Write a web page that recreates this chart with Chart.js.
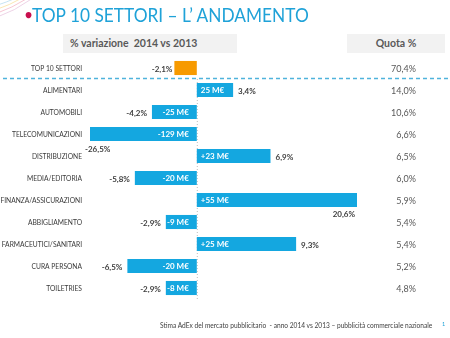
<!DOCTYPE html>
<html>
<head>
<meta charset="utf-8">
<script src="https://cdn.jsdelivr.net/npm/chart.js@4.4.1/dist/chart.umd.min.js"></script>
<style>
  body { margin: 0; background: #fff; font-family: Lato, "Open Sans", sans-serif; }
  #page { position: relative; width: 450px; height: 338px; overflow: hidden; }
  #wrap { position: absolute; left: 0; top: 0; width: 450px; height: 338px; }
  .title { position: absolute; left: 25px; top: 3px; font-size: 19px; color: #1fa2d8; white-space: nowrap;
           transform: scaleX(0.91); transform-origin: left top; }
  .title .dot { color: #c8104e; font-size: 13px; vertical-align: 3px; }
  .hbox { position: absolute; top: 34px; height: 19px; background: #f2f2f2; color: #595959;
          font-weight: bold; font-size: 10.5px; line-height: 19px; white-space: nowrap; }
  .foot { position: absolute; left: 160px; top: 321px; font-size: 6.6px; color: #404040; white-space: nowrap; }
  .pnum { position: absolute; left: 442px; top: 321px; font-size: 5.5px; color: #1fa2d8; }
  svg { position: absolute; left: 0; top: 0; }
</style>
</head>
<body>
<div id="page">
  <svg width="60" height="30">
    <path d="M-5 14 Q12 8 28 -2" stroke="#f4b8c8" fill="none" stroke-width="0.8"/>
    <path d="M-5 10 Q10 5 22 -2" stroke="#f7e0a0" fill="none" stroke-width="0.8"/>
    <path d="M-5 6 Q7 2 16 -2" stroke="#b8dcef" fill="none" stroke-width="0.8"/>
    <path d="M-5 18 Q15 11 33 -2" stroke="#e8c8e0" fill="none" stroke-width="0.8"/>
  </svg>
  <div id="wrap"><canvas id="myChart"></canvas></div>
  <div class="title"><span class="dot">&#9679;</span>TOP 10 SETTORI – L’ ANDAMENTO</div>
  <div class="hbox" style="left:63px;width:167px;padding-left:7px;">% variazione&nbsp; 2014 vs 2013</div>
  <div class="hbox" style="left:347px;width:98px;text-align:center;">Quota %</div>
  <div class="foot">Stima AdEx del mercato pubblicitario&nbsp; - anno 2014 vs 2013 – pubblicità commerciale nazionale</div>
  <div class="pnum">1</div>
</div>

<script>
// categories and values
var categories = ['TOP 10 SETTORI', 'ALIMENTARI', 'AUTOMOBILI', 'TELECOMUNICAZIONI', 'DISTRIBUZIONE',
  'MEDIA/EDITORIA', 'FINANZA/ASSICURAZIONI', 'ABBIGLIAMENTO', 'FARMACEUTICI/SANITARI', 'CURA PERSONA', 'TOILETRIES'];
var variazione = [-2.1, 3.4, -4.2, -26.5, 6.9, -5.8, 20.6, -2.9, 9.3, -6.5, -2.9];
var milioni = ['', '25 M€', '-25 M€', '-129 M€', '+23 M€', '-20 M€', '+55 M€', '-9 M€', '+25 M€', '-20 M€', '-8 M€'];
var quota = [70.4, 14.0, 10.6, 6.6, 6.5, 6.0, 5.9, 5.4, 5.4, 5.2, 4.8];

var BLUE = '#14a7e0';
var ORANGE = '#f79a00';

function fmt(v) {
  return v.toFixed(1).replace('.', ',') + '%';
}

// labels, dashed separator and zero line
var labelPlugin = {
  id: 'labelPlugin',
  beforeDatasetsDraw: function (chart) {
    var ctx = chart.ctx;
    var x = chart.scales.x, y = chart.scales.y;
    var x0 = x.getPixelForValue(0);
    var sep = (y.getPixelForValue(0) + y.getPixelForValue(1)) / 2;
    ctx.save();
    ctx.strokeStyle = '#bdbdbd';
    ctx.lineWidth = 1;
    ctx.setLineDash([1, 2]);
    ctx.beginPath();
    ctx.moveTo(x0 + 0.5, sep);
    ctx.lineTo(x0 + 0.5, chart.chartArea.bottom + 1);
    ctx.stroke();
    ctx.restore();
  },
  afterDatasetsDraw: function (chart) {
    var ctx = chart.ctx;
    var x = chart.scales.x, y = chart.scales.y;
    var x0 = x.getPixelForValue(0);
    var meta = chart.getDatasetMeta(0);
    ctx.save();

    // dashed line under the total row
    var sep = (y.getPixelForValue(0) + y.getPixelForValue(1)) / 2 - 0.5;
    ctx.strokeStyle = '#4fb3dc';
    ctx.lineWidth = 1.5;
    ctx.setLineDash([4, 3]);
    ctx.beginPath();
    ctx.moveTo(3, sep);
    ctx.lineTo(450, sep);
    ctx.stroke();
    ctx.setLineDash([]);

    ctx.textBaseline = 'middle';
    for (var i = 0; i < categories.length; i++) {
      var cy = y.getPixelForValue(i);
      var bar = meta.data[i];
      var v = variazione[i];

      // category name
      ctx.font = '6.7px Lato, sans-serif';
      ctx.fillStyle = '#3a3a3a';
      ctx.textAlign = 'right';
      ctx.fillText(categories[i], 82, cy + 0.5);

      // quota %
      ctx.font = '9px Lato, sans-serif';
      ctx.fillStyle = '#595959';
      ctx.textAlign = 'right';
      ctx.fillText(fmt(quota[i]), 416, cy + 1.5);

      // % variazione
      ctx.font = 'bold 8px Lato, sans-serif';
      ctx.fillStyle = '#404040';
      var half = bar.height / 2;
      if (v < x.min) {
        ctx.textAlign = 'left';
        ctx.fillText(fmt(v), chart.chartArea.left - 5, cy + half + 8);
      } else if (v > x.max) {
        ctx.textAlign = 'right';
        ctx.fillText(fmt(v), chart.chartArea.right - 2, cy + half + 7);
      } else if (v < 0) {
        ctx.textAlign = 'right';
        ctx.fillText(fmt(v), x.getPixelForValue(v) - (i === 0 ? 2 : 5), cy + 1);
      } else {
        ctx.textAlign = 'left';
        ctx.fillText(fmt(v), x.getPixelForValue(v) + 5, cy + 1);
      }

      // M€ inside the bar
      if (milioni[i]) {
        ctx.font = 'bold 8px Lato, sans-serif';
        ctx.fillStyle = '#ffffff';
        if (v < 0) {
          ctx.textAlign = 'right';
          ctx.fillText(milioni[i], x0 - 8, cy);
        } else {
          ctx.textAlign = 'left';
          ctx.fillText(milioni[i], x0 + 4, cy);
        }
      }
    }
    ctx.restore();
  }
};

var canvas = document.getElementById('myChart');
var chart = new Chart(canvas, {
  type: 'bar',
  data: {
    labels: categories,
    datasets: [{
      data: variazione,
      backgroundColor: variazione.map(function (v, i) { return i === 0 ? ORANGE : BLUE; }),
      borderWidth: 0,
      categoryPercentage: 1,
      barPercentage: 0.64
    }]
  },
  options: {
    indexAxis: 'y',
    responsive: true,
    maintainAspectRatio: false,
    animation: false,
    layout: { padding: { left: 90, right: 93, top: 57, bottom: 39 } },
    scales: {
      x: { display: false, min: -10, max: 15 },
      y: { display: false }
    },
    plugins: {
      legend: { display: false },
      tooltip: { enabled: false }
    }
  },
  plugins: [labelPlugin]
});
</script>
</body>
</html>
